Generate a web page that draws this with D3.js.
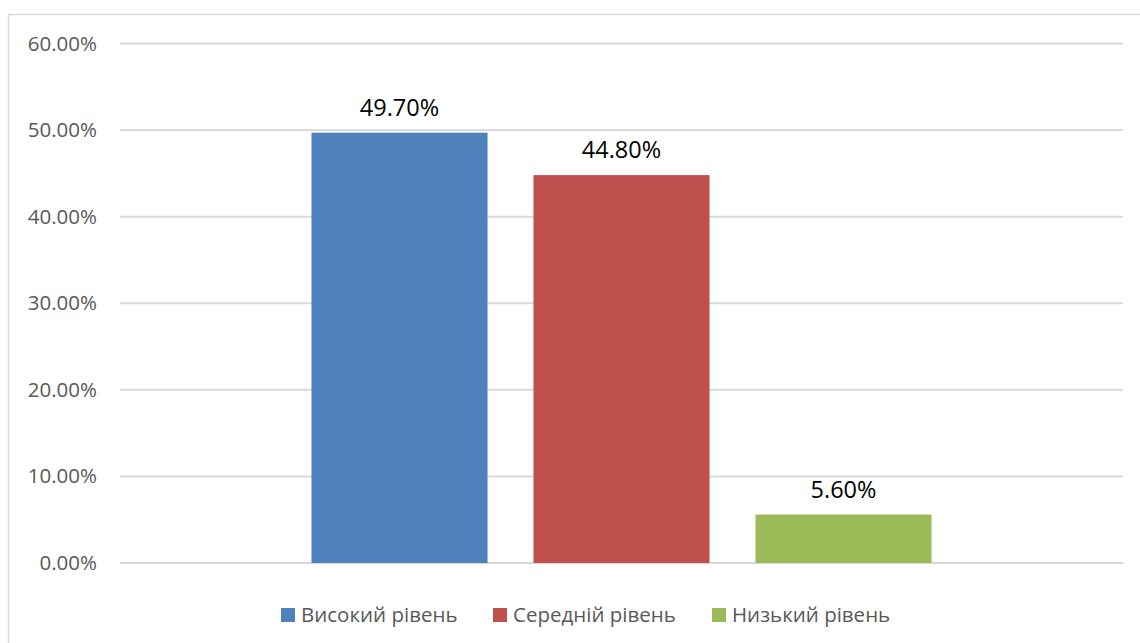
<!DOCTYPE html>
<html>
<head>
<meta charset="utf-8">
<script src="https://cdn.jsdelivr.net/npm/d3@7"></script>
<style>
  body { margin: 0; background: #fff; }
  svg { display: block; font-family: "Open Sans", sans-serif; }
</style>
</head>
<body>
<div id="chart"></div>
<script>
// chart data
var categories = ["Рівень"];
var seriesNames = ["Високий рівень", "Середній рівень", "Низький рівень"];
var seriesValues = [0.497, 0.448, 0.056];
var seriesColors = ["#4f81bd", "#c0504d", "#9bbb59"];
var tickValues = [0, 0.1, 0.2, 0.3, 0.4, 0.5, 0.6];

var width = 1140, height = 643;
var plot = { left: 120, right: 1123, top: 43.5, bottom: 563 };

var svg = d3.select("#chart").append("svg")
    .attr("width", width)
    .attr("height", height);

// chart border (runs past the window on right / bottom)
svg.append("rect")
    .attr("x", 8.5).attr("y", 14.5)
    .attr("width", 1160).attr("height", 660)
    .attr("fill", "none")
    .attr("stroke", "#d9d9d9")
    .attr("stroke-width", 1.5);

var y = d3.scaleLinear()
    .domain([0, 0.6])
    .range([plot.bottom, plot.top]);

var x0 = d3.scaleBand()
    .domain(categories)
    .range([plot.left, plot.right])
    .paddingInner(0)
    .paddingOuter(0.253);

var x1 = d3.scaleBand()
    .domain(seriesNames)
    .range([0, x0.bandwidth()])
    .paddingInner(0.207)
    .paddingOuter(0.1035);

// gridlines
svg.append("g")
    .selectAll("line")
    .data(tickValues)
    .enter().append("line")
    .attr("x1", plot.left).attr("x2", plot.right)
    .attr("y1", function (d) { return y(d); })
    .attr("y2", function (d) { return y(d); })
    .attr("stroke", "#d9d9d9")
    .attr("stroke-width", 2);

// y axis labels
var yAxis = d3.axisLeft(y)
    .tickValues(tickValues)
    .tickSize(0)
    .tickPadding(0)
    .tickFormat(function (d) { return (d * 100).toFixed(2) + "%"; });

var axisG = svg.append("g")
    .attr("transform", "translate(97,0)")
    .call(yAxis);
axisG.select(".domain").remove();
axisG.selectAll("text")
    .attr("fill", "#595959")
    .style("font-size", "20.5px")
    .style("font-family", "Open Sans");

// bars
var bars = seriesNames.map(function (name, i) {
    return { name: name, value: seriesValues[i], color: seriesColors[i], cat: categories[0] };
});

var g = svg.append("g");
g.selectAll("rect")
    .data(bars)
    .enter().append("rect")
    .attr("x", function (d) { return x0(d.cat) + x1(d.name); })
    .attr("y", function (d) { return y(d.value); })
    .attr("width", x1.bandwidth())
    .attr("height", function (d) { return y(0) - y(d.value); })
    .attr("fill", function (d) { return d.color; });

// data labels
g.selectAll("text")
    .data(bars)
    .enter().append("text")
    .attr("x", function (d) { return x0(d.cat) + x1(d.name) + x1.bandwidth() / 2; })
    .attr("y", function (d) { return y(d.value) - 17; })
    .attr("text-anchor", "middle")
    .attr("fill", "#000")
    .style("font-size", "23.5px")
    .text(function (d) { return (d.value * 100).toFixed(2) + "%"; });

// legend
var legendX = [281, 493, 712];
var legend = svg.append("g")
    .selectAll("g")
    .data(bars)
    .enter().append("g")
    .attr("transform", function (d, i) { return "translate(" + legendX[i] + ",608)"; });
legend.append("rect")
    .attr("width", 14).attr("height", 14)
    .attr("fill", function (d) { return d.color; });
legend.append("text")
    .attr("x", 20).attr("y", 14)
    .attr("fill", "#595959")
    .style("font-size", "20.5px")
    .text(function (d) { return d.name; });
</script>
</body>
</html>
